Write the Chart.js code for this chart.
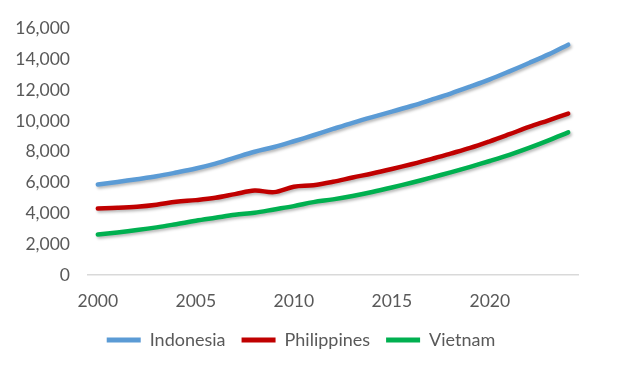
<!DOCTYPE html>
<html>
<head>
<meta charset="utf-8">
<script src="https://cdn.jsdelivr.net/npm/chart.js@4/dist/chart.umd.min.js"></script>
<style>
  html, body { margin: 0; padding: 0; background: #ffffff; }
  #wrap { width: 619px; height: 375px; }
</style>
</head>
<body>
<div id="wrap"><canvas id="c" width="619" height="375"></canvas></div>
<script>
const years = [2000,2001,2002,2003,2004,2005,2006,2007,2008,2009,2010,2011,2012,2013,2014,2015,2016,2017,2018,2019,2020,2021,2022,2023,2024];
const indonesia = [5870,6040,6220,6410,6650,6910,7230,7620,8000,8310,8680,9070,9480,9880,10250,10600,10970,11370,11780,12230,12700,13220,13760,14320,14950];
const philippines = [4320,4360,4430,4560,4750,4860,5010,5250,5480,5380,5730,5830,6050,6330,6590,6880,7190,7520,7880,8250,8680,9140,9610,10040,10480];
const vietnam = [2635,2765,2915,3090,3300,3520,3715,3910,4040,4255,4470,4730,4910,5130,5390,5680,5990,6320,6660,7020,7400,7800,8250,8740,9260];
const seriesNames = ["Indonesia", "Philippines", "Vietnam"];
const seriesColors = ["#5B9BD5", "#C00000", "#00B050"];
const yMin = 0, yMax = 16000, yStep = 2000;
const labelEvery = 5;

const shadowPlugin = {
  id: 'lineShadow',
  beforeDatasetDraw(chart) {
    const ctx = chart.ctx;
    ctx.save();
    ctx.shadowColor = 'rgba(0,0,0,0.28)';
    ctx.shadowBlur = 3;
    ctx.shadowOffsetX = 1.5;
    ctx.shadowOffsetY = 2;
  },
  afterDatasetDraw(chart) {
    chart.ctx.restore();
  }
};

const legendShift = {
  id: 'legendShift',
  afterLayout(chart) {
    const lg = chart.legend;
    if (lg) { lg.left += 12; lg.right += 12; }
  }
};

const tickFont = { family: 'Lato, "Open Sans", sans-serif', size: 17.5 };
const legendFont = { family: 'Lato, "Open Sans", sans-serif', size: 18 };

new Chart(document.getElementById('c'), {
  type: 'line',
  data: {
    labels: years.map(String),
    datasets: [indonesia, philippines, vietnam].map((d, i) => ({
      label: seriesNames[i],
      data: d,
      borderColor: seriesColors[i],
      backgroundColor: seriesColors[i],
      borderWidth: 4.5,
      borderCapStyle: 'round',
      borderJoinStyle: 'round',
      pointRadius: 0,
      tension: 0.35,
      fill: false
    }))
  },
  options: {
    responsive: false,
    animation: false,
    devicePixelRatio: 1,
    layout: { padding: { top: 28, right: 41, bottom: 16, left: 0 } },
    plugins: {
      legend: {
        position: 'bottom',
        labels: {
          color: '#595959',
          font: legendFont,
          boxWidth: 34,
          boxHeight: 5,
          padding: 16,
          generateLabels(chart) {
            return chart.data.datasets.map((ds, i) => ({
              text: ds.label,
              fillStyle: ds.borderColor,
              strokeStyle: ds.borderColor,
              lineWidth: 0,
              fontColor: '#595959',
              datasetIndex: i,
              hidden: false
            }));
          }
        }
      },
      tooltip: { enabled: false }
    },
    scales: {
      x: {
        offset: true,
        grid: { display: false, drawTicks: false },
        border: { display: true, color: '#D9D9D9', width: 1.5 },
        ticks: {
          color: '#595959',
          font: tickFont,
          autoSkip: false,
          maxRotation: 0,
          padding: 16,
          callback(v, i) { return i % labelEvery === 0 ? this.getLabelForValue(v) : ''; }
        },
        afterFit(s) { s.height = 40; }
      },
      y: {
        min: yMin,
        max: yMax,
        grid: { display: false, drawTicks: false },
        border: { display: false },
        ticks: {
          stepSize: yStep,
          color: '#595959',
          font: tickFont,
          padding: 18,
          callback(v) { return v.toLocaleString('en-US'); }
        },
        afterFit(s) { s.width = 88; }
      }
    }
  },
  plugins: [shadowPlugin, legendShift]
});
</script>
</body>
</html>
